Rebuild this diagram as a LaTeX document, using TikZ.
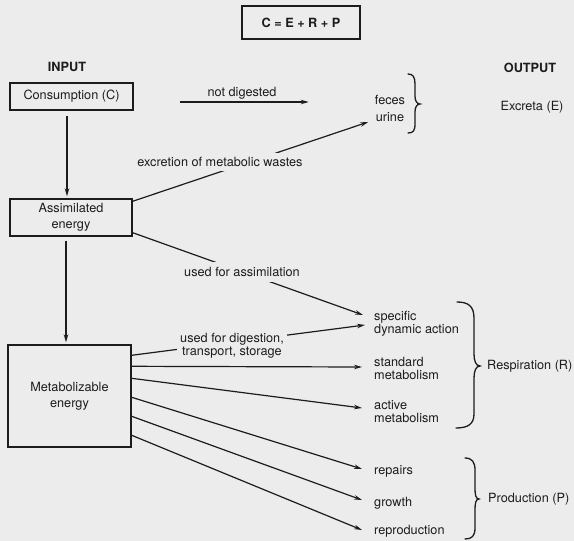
\documentclass[tikz,border=0pt]{standalone}
\usepackage{fontspec}
\setmainfont{TeX Gyre Heros}
\usetikzlibrary{arrows.meta,calc}
\definecolor{bgc}{RGB}{236,236,236}
\definecolor{ink}{RGB}{28,28,28}
\begin{document}
\begin{tikzpicture}[x=1pt,y=-1pt,
  every node/.style={text=ink, font=\fontsize{12.7}{13}\selectfont},
  head/.style={font=\bfseries\fontsize{12.7}{13}\selectfont},
  box/.style={draw=ink, line width=1.4pt, inner sep=0pt, align=center, font=\fontsize{12.7}{16}\selectfont},
  lbl/.style={inner sep=0pt, align=left, anchor=west},
  cover/.style={fill=bgc, inner sep=4pt, align=center},
  conn/.style={draw=ink, line width=1.2pt},
  arr/.style={conn, -{Stealth[length=8pt,width=4.5pt]}},
  brc/.style={draw=ink, line width=1.3pt, line cap=round},
]
\fill[bgc] (0,0) rectangle (574,541);
\useasboundingbox (0,0) rectangle (574,541);

% headings and equation
\node[box, head, minimum width=118pt, minimum height=33pt] (eq) at (301,22.5) {C = E + R + P};
\node[head] (input) at (67,67) {INPUT};
\node[head] (output) at (530,68) {OUTPUT};

% input boxes
\node[box, minimum width=123pt, minimum height=27pt] (cons) at (71.5,96.5) {Consumption (C)};
\node[box, minimum width=122pt, minimum height=37pt] (assim) at (71,217.5) {Assimilated\\energy};
\node[box, minimum width=123pt, minimum height=102pt] (metab) at (69.5,396) {Metabolizable\\energy};

% outputs
\node[inner sep=0pt, align=center, font=\fontsize{12.7}{16.7}\selectfont] (fu) at (390,108.5) {feces\\urine};
\node (excreta) at (532,107) {Excreta (E)};
\node[lbl] (sda) at (374,323.5) {specific\\dynamic action};
\node[lbl] (std) at (374,368.5) {standard\\metabolism};
\node[lbl] (act) at (374,411.5) {active\\metabolism};
\node[lbl] (rep) at (374,471) {repairs};
\node[lbl] (gro) at (374,503) {growth};
\node[lbl] (repro) at (374,531) {reproduction};
\node[lbl] (resp) at (487,366) {Respiration (R)};
\node[lbl] (prod) at (488,499) {Production (P)};

% vertical flow
\draw[arr, shorten <=5pt, shorten >=2pt] ($(cons.south)+(-4.5,0)$) -- ($(assim.north)+(-4,0)$);
\draw[arr, shorten <=4pt, shorten >=2pt] ($(assim.south)+(-5,0)$) -- ($(metab.north)+(-3.5,0)$);

% not digested
\coordinate (nd1) at (180,102);
\draw[arr] (nd1) -- ($(fu.west)+(-66,-6.5)$);
\node (ndl) at (242,93) {not digested};

% excretion
\draw[arr] ($(assim.north east)+(0,3)$) -- ($(fu.west)+(-6.5,13.5)$);
% used for assimilation
\draw[arr] ($(assim.south east)+(0,-4)$) -- ($(sda.west)+(-11,-8.5)$);
% metabolizable energy partitions
\draw[arr] ($(metab.north east)+(0,11)$) -- ($(sda.west)+(-9,1.5)$);
\draw[arr] ($(metab.north east)+(0,22)$) -- ($(std.west)+(-12,-1.5)$);
\draw[arr] ($(metab.north east)+(0,34)$) -- ($(act.west)+(-12,-3.5)$);
\draw[arr] ($(metab.north east)+(0,53)$) -- ($(rep.west)+(-12,-2)$);
\draw[arr] ($(metab.north east)+(0,72)$) -- ($(gro.west)+(-12,-3)$);
\draw[arr] ($(metab.north east)+(0,91)$) -- ($(repro.west)+(-12,-1)$);

% labels over lines
\node[cover] (exl) at (220,162) {excretion of metabolic wastes};
\node[cover, inner sep=5pt] (asl) at (242,272) {used for assimilation};
\node[cover, inner sep=3.5pt] (dgl) at (232,345.5) {used for digestion,\\transport, storage};

% braces
\draw[brc] (408,74) .. controls (413,74) and (415,77) .. (415,84) -- (415,96)
  .. controls (415,101) and (417,104) .. (420,104)
  .. controls (417,104) and (415,107) .. (415,112) -- (415,124)
  .. controls (415,131) and (413,133) .. (408,133);
\draw[brc] (457,302) .. controls (468,302) and (474,306) .. (474,318) -- (474,354)
  .. controls (474,361) and (476,366) .. (480,366)
  .. controls (476,366) and (474,371) .. (474,378) -- (474,414)
  .. controls (474,424) and (468,428) .. (456,428);
\draw[brc] (465,458) .. controls (472,458) and (475,462) .. (475,470) -- (475,489)
  .. controls (475,495) and (476,499) .. (479,499)
  .. controls (476,499) and (475,503) .. (475,509) -- (475,528)
  .. controls (475,536) and (472,539) .. (465,539);
\end{tikzpicture}
\end{document}
